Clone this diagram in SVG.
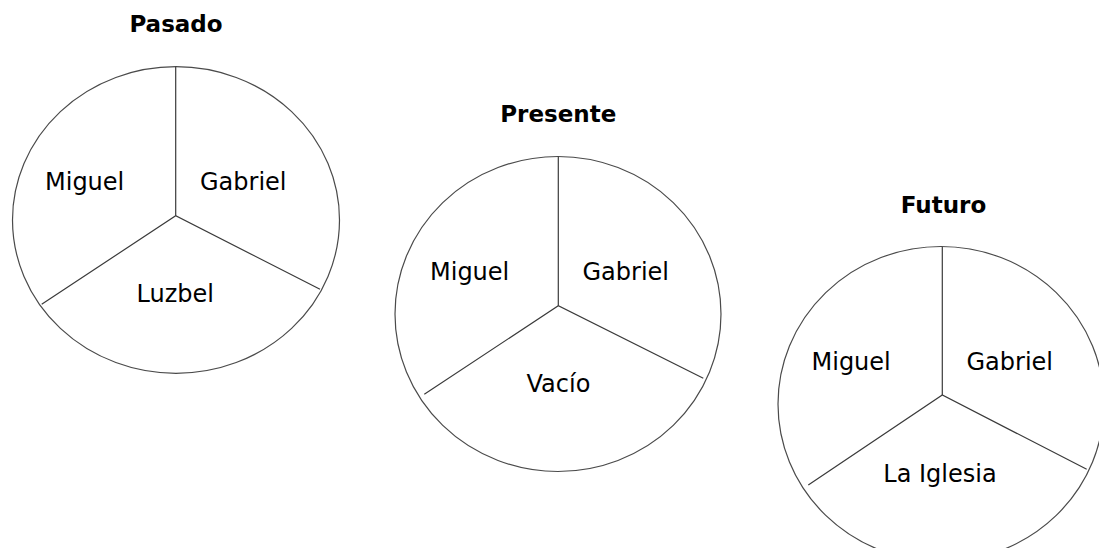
<svg xmlns="http://www.w3.org/2000/svg" width="1099" height="548" viewBox="0 0 1099 548">
<style>
.c{fill:none;stroke:#4a4a4a;stroke-width:1.2}
.s{stroke:#3a3a3a;stroke-width:1.2;fill:none}
.t{font-family:"DejaVu Sans",Verdana,sans-serif;font-weight:bold;font-size:23px;fill:#000}
.l{font-family:"DejaVu Sans",Verdana,sans-serif;font-size:24px;fill:#000}
</style>
<rect width="1099" height="548" fill="#fff"/>
<g id="pasado">
<text class="t" x="176" y="32" text-anchor="middle">Pasado</text>
<ellipse class="c" cx="176" cy="220" rx="163.5" ry="153.3"/>
<text class="l" x="45" y="189.5">Miguel</text>
<text class="l" x="200" y="189.5">Gabriel</text>
<text class="l" x="136.5" y="302">Luzbel</text>
</g>
<g id="presente">
<text class="t" x="558.3" y="122" text-anchor="middle">Presente</text>
<ellipse class="c" cx="558" cy="314" rx="163" ry="157.5"/>
<text class="l" x="430" y="280">Miguel</text>
<text class="l" x="582.5" y="280">Gabriel</text>
<text class="l" x="526.5" y="392">Vacío</text>
</g>
<g id="futuro">
<text class="t" x="943.5" y="212.5" text-anchor="middle">Futuro</text>
<ellipse class="c" cx="941" cy="404" rx="163" ry="157.5"/>
<text class="l" x="811.5" y="369.5">Miguel</text>
<text class="l" x="966.5" y="369.5">Gabriel</text>
<text class="l" x="883.3" y="482">La Iglesia</text>
</g>
<g id="connectors">
<polyline class="s" points="175.7,66.7 175.7,215.7"/>
<polyline class="s" points="41.7,304.3 175.7,215.7 320,289.3"/>
<polyline class="s" points="558.3,156.7 558.3,305.7"/>
<polyline class="s" points="424.3,394.3 558.3,305.7 703.3,378.3"/>
<polyline class="s" points="942.3,246.7 942.3,395"/>
<polyline class="s" points="808.3,485 942.3,395 1086.7,469.3"/>
</g>
</svg>
